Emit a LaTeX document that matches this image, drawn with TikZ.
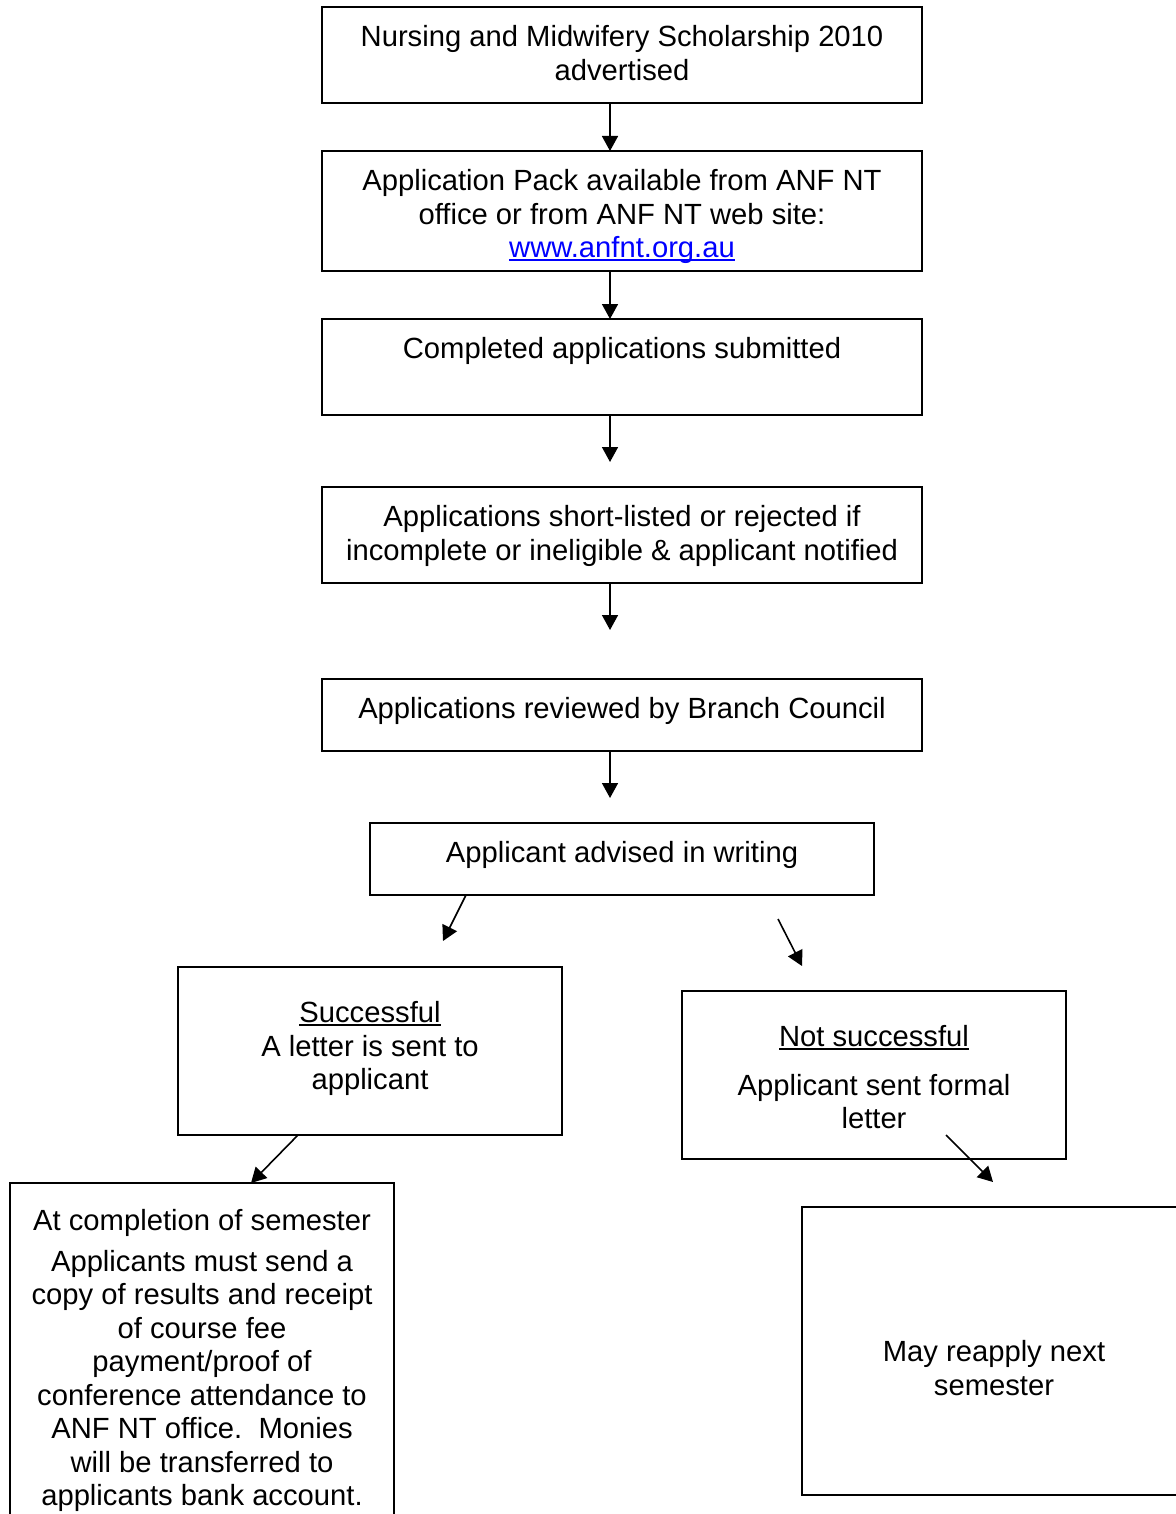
\documentclass[tikz,border=0pt]{standalone}
\usepackage{fontspec}
\setmainfont{Liberation Sans}
\usepackage{tikz}
\usetikzlibrary{arrows.meta}
\usetikzlibrary{positioning}
\newcommand{\underscored}[1]{\setbox0\hbox{#1}\rlap{\rule[-1.6pt]{\wd0}{0.75pt}}\box0}

\begin{document}
\begin{tikzpicture}[x=0.5pt,y=-0.5pt,
   stagebox/.style={draw,rectangle,line width=1.2pt,anchor=north west,inner sep=0pt,outer sep=0pt},
   stagetext/.style={align=center,inner sep=0pt,font=\fontsize{14.6}{16.75}\selectfont},
   flow/.style={-{Triangle[length=7.5pt,width=8pt]},line width=0.8pt}]
\useasboundingbox (0,0) rectangle (1176,1514);

\node[stagebox,minimum width=300pt,minimum height=48pt] (advert) at (322,7) {};
\node[stagetext,below=9pt of advert.north] (advertT) {Nursing and Midwifery Scholarship 2010\\advertised};

\node[stagebox,minimum width=300pt,minimum height=60pt] (pack) at (322,151) {};
\node[stagetext,below=9pt of pack.north] (packT) {Application Pack available from ANF NT\\office or from ANF NT web site:\\\textcolor{blue}{\underscored{www.anfnt.org.au}}};

\node[stagebox,minimum width=300pt,minimum height=48pt] (submit) at (322,319) {};
\node[stagetext,below=9pt of submit.north] (submitT) {Completed applications submitted};

\node[stagebox,minimum width=300pt,minimum height=48pt] (shortlist) at (322,487) {};
\node[stagetext,below=9pt of shortlist.north] (shortlistT) {Applications short-listed or rejected if\\incomplete or ineligible \& applicant notified};

\node[stagebox,minimum width=300pt,minimum height=36pt] (review) at (322,679) {};
\node[stagetext,below=9pt of review.north] (reviewT) {Applications reviewed by Branch Council};

\node[stagebox,minimum width=252pt,minimum height=36pt] (advised) at (370,823) {};
\node[stagetext,below=9pt of advised.north] (advisedT) {Applicant advised in writing};

\node[stagebox,minimum width=192pt,minimum height=84pt] (success) at (178,967) {};
\node[stagetext,below=17pt of success.north] (successT) {\underscored{Successful}\\A letter is sent to\\applicant};

\node[stagebox,minimum width=192pt,minimum height=84pt] (notsucc) at (682,991) {};
\node[stagetext,below=17pt of notsucc.north] (notsuccT) {\underscored{Not successful}\\[7.5pt]Applicant sent formal\\letter};

\node[stagebox,minimum width=192pt,minimum height=200pt] (complete) at (10,1183) {};
\node[stagetext,below=13pt of complete.north] (completeT) {At completion of semester\\[3.5pt]Applicants must send a\\copy of results and receipt\\of course fee\\payment/proof of\\conference attendance to\\ANF NT office.\ \ Monies\\will be transferred to\\applicants bank account.};

\node[stagebox,minimum width=192pt,minimum height=144pt] (reapply) at (802,1207) {};
\node[stagetext,below=66.5pt of reapply.north] (reapplyT) {May reapply next\\semester};

\coordinate (gapA) at (610,462);
\coordinate (gapB) at (610,630);
\coordinate (gapC) at (610,798);
\coordinate (leftTip) at (443,941);
\coordinate (rightTail) at (778,919);
\coordinate (rightTip) at (802,966);
\coordinate (retryTail) at (946,1135);
\coordinate (retryTip) at (993,1182);

\draw[flow] ([xshift=-6pt]advert.south) -- ([xshift=-6pt]pack.north);
\draw[flow] ([xshift=-6pt]pack.south) -- ([xshift=-6pt]submit.north);
\draw[flow] ([xshift=-6pt]submit.south) -- (gapA);
\draw[flow] ([xshift=-6pt]shortlist.south) -- (gapB);
\draw[flow] ([xshift=-6pt]review.south) -- (gapC);
\draw[flow] ([xshift=-78pt]advised.south) -- (leftTip);
\draw[flow] (rightTail) -- (rightTip);
\draw[flow] ([xshift=-36pt]success.south) -- ([xshift=24.5pt]complete.north);
\draw[flow] (retryTail) -- (retryTip);
\end{tikzpicture}
\end{document}
